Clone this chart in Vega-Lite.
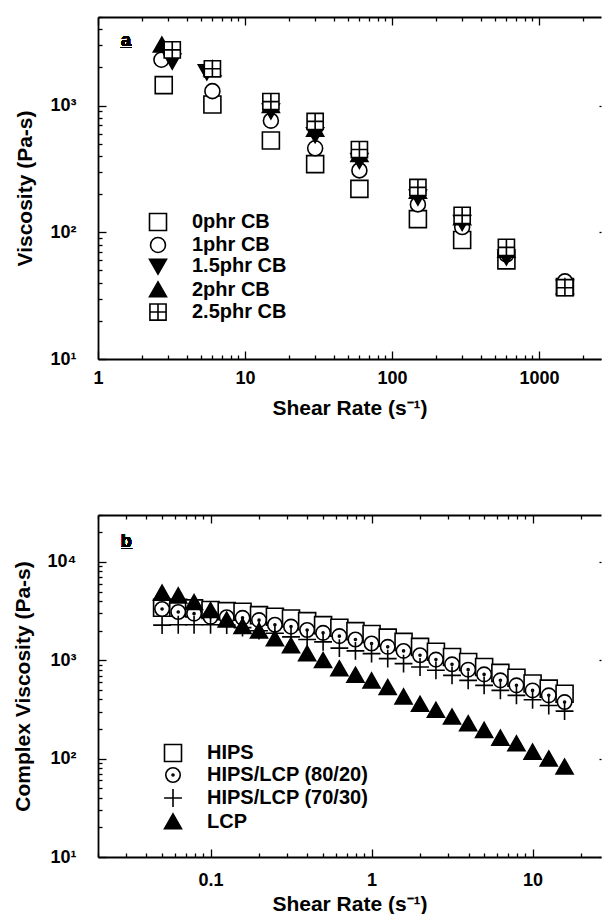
{
  "$schema": "https://vega.github.io/schema/vega-lite/v6.json",
  "padding": {"left": 12, "top": 8, "right": 0, "bottom": 0},
  "spacing": 88,
  "resolve": {"scale": {"shape": "independent", "fill": "independent"}, "legend": {"shape": "independent", "fill": "independent"}},
  "config": {
    "view": {"stroke": null},
    "font": "Liberation Sans",
    "axis": {"grid": false, "domainColor": "black", "domainWidth": 1.8, "tickColor": "black", "tickWidth": 1.3, "labelColor": "black", "labelFont": "Liberation Sans", "labelFontSize": 18, "labelFontWeight": "bold", "labelOverlap": false, "labelFlush": false, "labelBound": false, "titleColor": "black", "titleFont": "Liberation Sans", "titleFontSize": 21, "titleFontWeight": "bold"},
    "legend": {"orient": "none", "padding": 0, "labelFont": "Liberation Sans", "labelFontSize": 20, "labelFontWeight": "bold", "labelColor": "black", "labelLimit": 400, "symbolStrokeColor": "black", "symbolStrokeWidth": 1.6, "symbolSize": 289, "labelOffset": 24, "rowPadding": 0, "symbolOpacity": 1}
  },
  "datasets": {
    "pa": [
      {"series": "0phr CB", "rate": 2.8, "viscosity": 1450},
      {"series": "0phr CB", "rate": 6, "viscosity": 1020},
      {"series": "0phr CB", "rate": 15, "viscosity": 530},
      {"series": "0phr CB", "rate": 30, "viscosity": 345},
      {"series": "0phr CB", "rate": 60, "viscosity": 220},
      {"series": "0phr CB", "rate": 150, "viscosity": 127},
      {"series": "0phr CB", "rate": 300, "viscosity": 87},
      {"series": "0phr CB", "rate": 600, "viscosity": 60},
      {"series": "0phr CB", "rate": 1500, "viscosity": 37},
      {"series": "1phr CB", "rate": 2.7, "viscosity": 2300},
      {"series": "1phr CB", "rate": 6, "viscosity": 1300},
      {"series": "1phr CB", "rate": 15, "viscosity": 760},
      {"series": "1phr CB", "rate": 30, "viscosity": 460},
      {"series": "1phr CB", "rate": 60, "viscosity": 308},
      {"series": "1phr CB", "rate": 150, "viscosity": 166},
      {"series": "1phr CB", "rate": 300, "viscosity": 110},
      {"series": "1phr CB", "rate": 600, "viscosity": 67},
      {"series": "1phr CB", "rate": 1500, "viscosity": 41},
      {"series": "1.5phr CB", "rate": 3.2, "viscosity": 2250},
      {"series": "1.5phr CB", "rate": 5.5, "viscosity": 1850},
      {"series": "1.5phr CB", "rate": 15, "viscosity": 910},
      {"series": "1.5phr CB", "rate": 30, "viscosity": 590},
      {"series": "1.5phr CB", "rate": 60, "viscosity": 370},
      {"series": "1.5phr CB", "rate": 150, "viscosity": 190},
      {"series": "1.5phr CB", "rate": 300, "viscosity": 120},
      {"series": "1.5phr CB", "rate": 600, "viscosity": 64},
      {"series": "1.5phr CB", "rate": 1500, "viscosity": 37},
      {"series": "2phr CB", "rate": 2.72, "viscosity": 3000},
      {"series": "2phr CB", "rate": 6, "viscosity": 1950},
      {"series": "2phr CB", "rate": 15, "viscosity": 1000},
      {"series": "2phr CB", "rate": 30, "viscosity": 650},
      {"series": "2phr CB", "rate": 60, "viscosity": 410},
      {"series": "2phr CB", "rate": 150, "viscosity": 210},
      {"series": "2phr CB", "rate": 300, "viscosity": 130},
      {"series": "2phr CB", "rate": 600, "viscosity": 72},
      {"series": "2phr CB", "rate": 1500, "viscosity": 37},
      {"series": "2.5phr CB", "rate": 3.2, "viscosity": 2750},
      {"series": "2.5phr CB", "rate": 6, "viscosity": 1950},
      {"series": "2.5phr CB", "rate": 15, "viscosity": 1075},
      {"series": "2.5phr CB", "rate": 30, "viscosity": 750},
      {"series": "2.5phr CB", "rate": 60, "viscosity": 450},
      {"series": "2.5phr CB", "rate": 150, "viscosity": 226},
      {"series": "2.5phr CB", "rate": 300, "viscosity": 136},
      {"series": "2.5phr CB", "rate": 600, "viscosity": 76},
      {"series": "2.5phr CB", "rate": 1500, "viscosity": 36.5}
    ],
    "pb": [
      {"series": "HIPS", "rate": 0.05, "viscosity": 3420},
      {"series": "HIPS", "rate": 0.063, "viscosity": 3420},
      {"series": "HIPS", "rate": 0.079, "viscosity": 3370},
      {"series": "HIPS", "rate": 0.1, "viscosity": 3240},
      {"series": "HIPS", "rate": 0.126, "viscosity": 3160},
      {"series": "HIPS", "rate": 0.158, "viscosity": 3110},
      {"series": "HIPS", "rate": 0.2, "viscosity": 2880},
      {"series": "HIPS", "rate": 0.251, "viscosity": 2770},
      {"series": "HIPS", "rate": 0.316, "viscosity": 2660},
      {"series": "HIPS", "rate": 0.398, "viscosity": 2500},
      {"series": "HIPS", "rate": 0.5, "viscosity": 2275},
      {"series": "HIPS", "rate": 0.631, "viscosity": 2140},
      {"series": "HIPS", "rate": 0.794, "viscosity": 1980},
      {"series": "HIPS", "rate": 1, "viscosity": 1850},
      {"series": "HIPS", "rate": 1.26, "viscosity": 1700},
      {"series": "HIPS", "rate": 1.58, "viscosity": 1540},
      {"series": "HIPS", "rate": 2, "viscosity": 1370},
      {"series": "HIPS", "rate": 2.51, "viscosity": 1220},
      {"series": "HIPS", "rate": 3.16, "viscosity": 1080},
      {"series": "HIPS", "rate": 3.98, "viscosity": 960},
      {"series": "HIPS", "rate": 5, "viscosity": 855},
      {"series": "HIPS", "rate": 6.31, "viscosity": 745},
      {"series": "HIPS", "rate": 7.94, "viscosity": 665},
      {"series": "HIPS", "rate": 10, "viscosity": 580},
      {"series": "HIPS", "rate": 12.6, "viscosity": 515},
      {"series": "HIPS", "rate": 15.8, "viscosity": 457},
      {"series": "HIPS/LCP (80/20)", "rate": 0.05, "viscosity": 3320},
      {"series": "HIPS/LCP (80/20)", "rate": 0.063, "viscosity": 3100},
      {"series": "HIPS/LCP (80/20)", "rate": 0.079, "viscosity": 2980},
      {"series": "HIPS/LCP (80/20)", "rate": 0.1, "viscosity": 2760},
      {"series": "HIPS/LCP (80/20)", "rate": 0.126, "viscosity": 2740},
      {"series": "HIPS/LCP (80/20)", "rate": 0.158, "viscosity": 2700},
      {"series": "HIPS/LCP (80/20)", "rate": 0.2, "viscosity": 2560},
      {"series": "HIPS/LCP (80/20)", "rate": 0.251, "viscosity": 2300},
      {"series": "HIPS/LCP (80/20)", "rate": 0.316, "viscosity": 2200},
      {"series": "HIPS/LCP (80/20)", "rate": 0.398, "viscosity": 2030},
      {"series": "HIPS/LCP (80/20)", "rate": 0.5, "viscosity": 1900},
      {"series": "HIPS/LCP (80/20)", "rate": 0.631, "viscosity": 1760},
      {"series": "HIPS/LCP (80/20)", "rate": 0.794, "viscosity": 1625},
      {"series": "HIPS/LCP (80/20)", "rate": 1, "viscosity": 1480},
      {"series": "HIPS/LCP (80/20)", "rate": 1.26, "viscosity": 1370},
      {"series": "HIPS/LCP (80/20)", "rate": 1.58, "viscosity": 1245},
      {"series": "HIPS/LCP (80/20)", "rate": 2, "viscosity": 1125},
      {"series": "HIPS/LCP (80/20)", "rate": 2.51, "viscosity": 1016},
      {"series": "HIPS/LCP (80/20)", "rate": 3.16, "viscosity": 910},
      {"series": "HIPS/LCP (80/20)", "rate": 3.98, "viscosity": 803},
      {"series": "HIPS/LCP (80/20)", "rate": 5, "viscosity": 719},
      {"series": "HIPS/LCP (80/20)", "rate": 6.31, "viscosity": 625},
      {"series": "HIPS/LCP (80/20)", "rate": 7.94, "viscosity": 556},
      {"series": "HIPS/LCP (80/20)", "rate": 10, "viscosity": 494},
      {"series": "HIPS/LCP (80/20)", "rate": 12.6, "viscosity": 440},
      {"series": "HIPS/LCP (80/20)", "rate": 15.8, "viscosity": 376},
      {"series": "HIPS/LCP (70/30)", "rate": 0.05, "viscosity": 2275},
      {"series": "HIPS/LCP (70/30)", "rate": 0.063, "viscosity": 2300},
      {"series": "HIPS/LCP (70/30)", "rate": 0.079, "viscosity": 2300},
      {"series": "HIPS/LCP (70/30)", "rate": 0.1, "viscosity": 2300},
      {"series": "HIPS/LCP (70/30)", "rate": 0.126, "viscosity": 2280},
      {"series": "HIPS/LCP (70/30)", "rate": 0.158, "viscosity": 2150},
      {"series": "HIPS/LCP (70/30)", "rate": 0.2, "viscosity": 2000},
      {"series": "HIPS/LCP (70/30)", "rate": 0.251, "viscosity": 1880},
      {"series": "HIPS/LCP (70/30)", "rate": 0.316, "viscosity": 1730},
      {"series": "HIPS/LCP (70/30)", "rate": 0.398, "viscosity": 1625},
      {"series": "HIPS/LCP (70/30)", "rate": 0.5, "viscosity": 1540},
      {"series": "HIPS/LCP (70/30)", "rate": 0.631, "viscosity": 1330},
      {"series": "HIPS/LCP (70/30)", "rate": 0.794, "viscosity": 1245},
      {"series": "HIPS/LCP (70/30)", "rate": 1, "viscosity": 1170},
      {"series": "HIPS/LCP (70/30)", "rate": 1.26, "viscosity": 1040},
      {"series": "HIPS/LCP (70/30)", "rate": 1.58, "viscosity": 925},
      {"series": "HIPS/LCP (70/30)", "rate": 2, "viscosity": 855},
      {"series": "HIPS/LCP (70/30)", "rate": 2.51, "viscosity": 791},
      {"series": "HIPS/LCP (70/30)", "rate": 3.16, "viscosity": 703},
      {"series": "HIPS/LCP (70/30)", "rate": 3.98, "viscosity": 625},
      {"series": "HIPS/LCP (70/30)", "rate": 5, "viscosity": 556},
      {"series": "HIPS/LCP (70/30)", "rate": 6.31, "viscosity": 494},
      {"series": "HIPS/LCP (70/30)", "rate": 7.94, "viscosity": 440},
      {"series": "HIPS/LCP (70/30)", "rate": 10, "viscosity": 397},
      {"series": "HIPS/LCP (70/30)", "rate": 12.6, "viscosity": 347},
      {"series": "HIPS/LCP (70/30)", "rate": 15.8, "viscosity": 304},
      {"series": "LCP", "rate": 0.05, "viscosity": 4800},
      {"series": "LCP", "rate": 0.063, "viscosity": 4500},
      {"series": "LCP", "rate": 0.079, "viscosity": 3850},
      {"series": "LCP", "rate": 0.1, "viscosity": 3200},
      {"series": "LCP", "rate": 0.126, "viscosity": 2560},
      {"series": "LCP", "rate": 0.158, "viscosity": 2200},
      {"series": "LCP", "rate": 0.2, "viscosity": 1980},
      {"series": "LCP", "rate": 0.251, "viscosity": 1650},
      {"series": "LCP", "rate": 0.316, "viscosity": 1400},
      {"series": "LCP", "rate": 0.398, "viscosity": 1160},
      {"series": "LCP", "rate": 0.5, "viscosity": 990},
      {"series": "LCP", "rate": 0.631, "viscosity": 815},
      {"series": "LCP", "rate": 0.794, "viscosity": 703},
      {"series": "LCP", "rate": 1, "viscosity": 615},
      {"series": "LCP", "rate": 1.26, "viscosity": 526},
      {"series": "LCP", "rate": 1.58, "viscosity": 423},
      {"series": "LCP", "rate": 2, "viscosity": 356},
      {"series": "LCP", "rate": 2.51, "viscosity": 309},
      {"series": "LCP", "rate": 3.16, "viscosity": 264},
      {"series": "LCP", "rate": 3.98, "viscosity": 226},
      {"series": "LCP", "rate": 5, "viscosity": 193},
      {"series": "LCP", "rate": 6.31, "viscosity": 161},
      {"series": "LCP", "rate": 7.94, "viscosity": 141},
      {"series": "LCP", "rate": 10, "viscosity": 116},
      {"series": "LCP", "rate": 12.6, "viscosity": 99},
      {"series": "LCP", "rate": 15.8, "viscosity": 82}
    ]
  },
  "vconcat": [
    {
      "width": 503,
      "height": 342,
      "data": {"name": "pa"},
      "resolve": {"axis": {"x": "independent", "y": "independent"}},
      "layer": [
        {
          "mark": {"type": "point", "filled": true, "stroke": "black", "strokeWidth": 1.6, "opacity": 1, "size": 289},
          "encoding": {
            "x": {"field": "rate", "type": "quantitative",
              "scale": {"type": "log", "domain": [1, 2640], "nice": false},
              "axis": {"orient": "bottom", "title": "Shear Rate (s⁻¹)",
                "values": [1,2,3,4,5,6,7,8,9,10,20,30,40,50,60,70,80,90,100,200,300,400,500,600,700,800,900,1000,2000],
                "labelExpr": "abs(log(datum.value)/LN10 - round(log(datum.value)/LN10)) < 0.000001 ? '' + datum.value : ''",
                "tickSize": {"condition": {"test": "abs(log(datum.value)/LN10 - round(log(datum.value)/LN10)) < 0.000001", "value": -8}, "value": -4},
                "labelPadding": 18, "titlePadding": 6}},
            "y": {"field": "viscosity", "type": "quantitative",
              "scale": {"type": "log", "domain": [10, 5000], "nice": false},
              "axis": {"orient": "left", "title": "Viscosity (Pa-s)",
                "values": [10,20,30,40,50,60,70,80,90,100,200,300,400,500,600,700,800,900,1000,2000,3000,4000,5000],
                "labelExpr": "abs(log(datum.value)/LN10 - round(log(datum.value)/LN10)) < 0.000001 ? '10' + ['⁰','¹','²','³','⁴','⁵'][round(log(datum.value)/LN10)] : ''",
                "tickSize": {"condition": {"test": "abs(log(datum.value)/LN10 - round(log(datum.value)/LN10)) < 0.000001", "value": -8}, "value": -4},
                "labelPadding": 30, "titlePadding": 14}},
            "shape": {"field": "series", "type": "nominal",
              "scale": {"domain": ["0phr CB", "1phr CB", "1.5phr CB", "2phr CB", "2.5phr CB"],
                "range": ["M-1,-1H1V1H-1Z", "M-0.88,0A0.88,0.88 0 1,1 0.88,0A0.88,0.88 0 1,1 -0.88,0Z", "M0,0.95L1,-0.8L-1,-0.8Z", "M0,-0.95L1,0.8L-1,0.8Z", "M-0.95,-0.95H0.95V0.95H-0.95Z M0,-0.95V0.95 M-0.95,0H0.95"]},
              "legend": {"title": null, "orient": "none", "legendX": 50, "legendY": 195,
                "encode": {"symbols": {"update": {"stroke": {"value": "black"}, "strokeWidth": {"value": 1.6}}}}}},
            "fill": {"field": "series", "type": "nominal",
              "scale": {"domain": ["0phr CB", "1phr CB", "1.5phr CB", "2phr CB", "2.5phr CB"],
                "range": ["white", "white", "black", "black", "white"]},
              "legend": {"title": null, "orient": "none", "legendX": 50, "legendY": 195,
                "encode": {"symbols": {"update": {"stroke": {"value": "black"}, "strokeWidth": {"value": 1.6}}}}}}
          }
        },
        {
          "mark": {"type": "point", "opacity": 0},
          "encoding": {
            "x": {"field": "rate", "type": "quantitative",
              "axis": {"orient": "top", "title": null, "labels": false,
                "values": [1,2,3,4,5,6,7,8,9,10,20,30,40,50,60,70,80,90,100,200,300,400,500,600,700,800,900,1000,2000],
                "tickSize": {"condition": {"test": "abs(log(datum.value)/LN10 - round(log(datum.value)/LN10)) < 0.000001", "value": -8}, "value": -4}}},
            "y": {"field": "viscosity", "type": "quantitative",
              "axis": {"orient": "right", "title": null, "labels": false, "domain": false,
                "values": [10, 100, 1000], "tickSize": -2}}
          }
        },
        {
          "mark": {"type": "text", "font": "Liberation Sans", "fontSize": 18, "fontWeight": "bold", "color": "black"},
          "encoding": {
            "x": {"datum": 1.55, "type": "quantitative", "axis": null},
            "y": {"datum": 3250, "type": "quantitative", "axis": null},
            "text": {"value": "a\u0332"}
          }
        }
      ]
    },
    {
      "width": 503,
      "height": 342,
      "data": {"name": "pb"},
      "resolve": {"axis": {"x": "independent", "y": "independent"}},
      "layer": [
        {
          "mark": {"type": "point", "filled": true, "stroke": "black", "strokeWidth": 1.6, "opacity": 1, "size": 289},
          "encoding": {
            "x": {"field": "rate", "type": "quantitative",
              "scale": {"type": "log", "domain": [0.02, 26.6], "nice": false},
              "axis": {"orient": "bottom", "title": "Shear Rate (s⁻¹)",
                "values": [0.02,0.03,0.04,0.05,0.06,0.07,0.08,0.09,0.1,0.2,0.3,0.4,0.5,0.6,0.7,0.8,0.9,1,2,3,4,5,6,7,8,9,10,20],
                "labelExpr": "abs(log(datum.value)/LN10 - round(log(datum.value)/LN10)) < 0.000001 ? '' + datum.value : ''",
                "tickSize": {"condition": {"test": "abs(log(datum.value)/LN10 - round(log(datum.value)/LN10)) < 0.000001", "value": -8}, "value": -4},
                "labelPadding": 22, "titlePadding": 0}},
            "y": {"field": "viscosity", "type": "quantitative",
              "scale": {"type": "log", "domain": [10, 30000], "nice": false},
              "axis": {"orient": "left", "title": "Complex Viscosity (Pa-s)",
                "values": [10,20,30,40,50,60,70,80,90,100,200,300,400,500,600,700,800,900,1000,2000,3000,4000,5000,6000,7000,8000,9000,10000,20000,30000],
                "labelExpr": "abs(log(datum.value)/LN10 - round(log(datum.value)/LN10)) < 0.000001 ? '10' + ['⁰','¹','²','³','⁴','⁵'][round(log(datum.value)/LN10)] : ''",
                "tickSize": {"condition": {"test": "abs(log(datum.value)/LN10 - round(log(datum.value)/LN10)) < 0.000001", "value": -8}, "value": -4},
                "labelPadding": 30, "titlePadding": 14}},
            "shape": {"field": "series", "type": "nominal",
              "scale": {"domain": ["HIPS", "HIPS/LCP (80/20)", "HIPS/LCP (70/30)", "LCP"],
                "range": ["M-1,-1H1V1H-1Z", "M-0.85,0A0.85,0.85 0 1,1 0.85,0A0.85,0.85 0 1,1 -0.85,0Z M-0.12,0A0.12,0.12 0 1,1 0.12,0A0.12,0.12 0 1,1 -0.12,0Z", "M-1.05,0H1.05M0,-1.05V1.05", "M0,-0.95L1,0.8L-1,0.8Z"]},
              "legend": {"title": null, "orient": "none", "legendX": 65, "legendY": 228, "rowPadding": -1,
                "encode": {"symbols": {"update": {"stroke": {"value": "black"}, "strokeWidth": {"value": 1.6}}}}}},
            "fill": {"field": "series", "type": "nominal",
              "scale": {"domain": ["HIPS", "HIPS/LCP (80/20)", "HIPS/LCP (70/30)", "LCP"],
                "range": ["white", "white", "white", "black"]},
              "legend": {"title": null, "orient": "none", "legendX": 65, "legendY": 228, "rowPadding": -1,
                "encode": {"symbols": {"update": {"stroke": {"value": "black"}, "strokeWidth": {"value": 1.6}}}}}}
          }
        },
        {
          "mark": {"type": "point", "opacity": 0},
          "encoding": {
            "x": {"field": "rate", "type": "quantitative",
              "axis": {"orient": "top", "title": null, "labels": false,
                "values": [0.02,0.03,0.04,0.05,0.06,0.07,0.08,0.09,0.1,0.2,0.3,0.4,0.5,0.6,0.7,0.8,0.9,1,2,3,4,5,6,7,8,9,10,20],
                "tickSize": {"condition": {"test": "abs(log(datum.value)/LN10 - round(log(datum.value)/LN10)) < 0.000001", "value": -8}, "value": -4}}},
            "y": {"field": "viscosity", "type": "quantitative",
              "axis": {"orient": "right", "title": null, "labels": false, "domain": false,
                "values": [10, 100, 1000, 10000], "tickSize": -2}}
          }
        },
        {
          "mark": {"type": "text", "font": "Liberation Sans", "fontSize": 18, "fontWeight": "bold", "color": "black"},
          "encoding": {
            "x": {"datum": 0.03, "type": "quantitative", "axis": null},
            "y": {"datum": 16000, "type": "quantitative", "axis": null},
            "text": {"value": "b\u0332"}
          }
        }
      ]
    }
  ]
}
